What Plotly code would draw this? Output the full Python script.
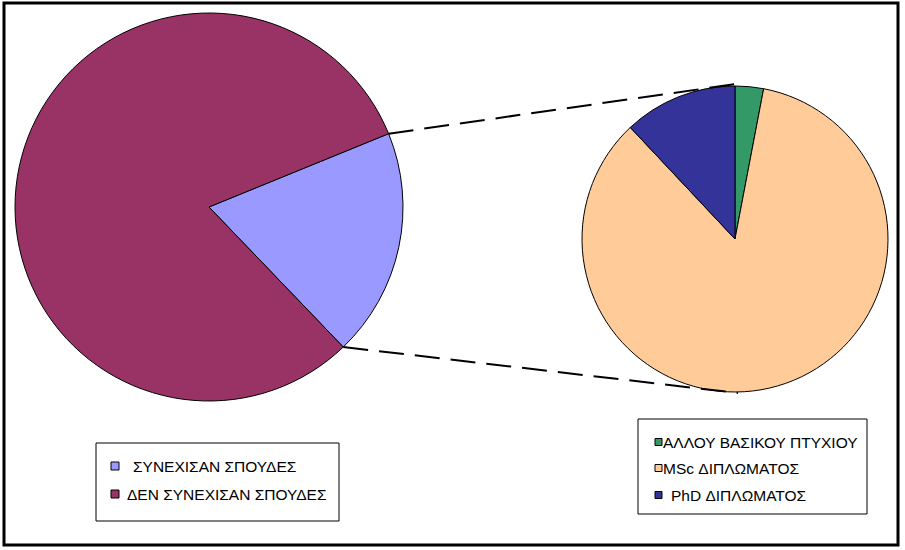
import math
import plotly.graph_objects as go

# ---- data ----
main_labels = ["ΣΥΝΕΧΙΣΑΝ ΣΠΟΥΔΕΣ", "ΔΕΝ ΣΥΝΕΧΙΣΑΝ ΣΠΟΥΔΕΣ"]
main_values = [19, 81]
main_colors = ["#9999FF", "#993366"]

sub_labels = ["ΑΛΛΟΥ ΒΑΣΙΚΟΥ ΠΤΥΧΙΟΥ", "MSc ΔΙΠΛΩΜΑΤΟΣ", "PhD ΔΙΠΛΩΜΑΤΟΣ"]
sub_values = [3, 85, 12]
sub_colors = ["#339966", "#FFCC99", "#333399"]

# ---- layout geometry (pixels) ----
W, H = 905, 550
L_CX, L_CY, L_R = 209, 207, 194
R_CX, R_CY, R_R = 735, 239, 153
L_ROT = 67.8
FONT = "Liberation Sans, Arial, sans-serif"


def px(x):
    return x / W


def py(y):
    return 1 - y / H


fig = go.Figure()
fig.add_trace(go.Pie(
    labels=main_labels, values=main_values, sort=False, direction="clockwise",
    rotation=L_ROT, textinfo="none", hoverinfo="label+percent",
    marker=dict(colors=main_colors, line=dict(color="#000000", width=1)),
    domain=dict(x=[px(L_CX - L_R), px(L_CX + L_R)], y=[py(L_CY + L_R), py(L_CY - L_R)]),
    showlegend=False,
))
fig.add_trace(go.Pie(
    labels=sub_labels, values=sub_values, sort=False, direction="clockwise",
    rotation=0, textinfo="none", hoverinfo="label+percent",
    marker=dict(colors=sub_colors, line=dict(color="#000000", width=1)),
    domain=dict(x=[px(R_CX - R_R), px(R_CX + R_R)], y=[py(R_CY + R_R), py(R_CY - R_R)]),
    showlegend=False,
))

shapes = []
# outer border
shapes.append(dict(type="rect", xref="paper", yref="paper",
                   x0=px(4), x1=px(898), y0=py(545), y1=py(3),
                   line=dict(color="black", width=3), fillcolor="rgba(0,0,0,0)"))

# connector lines from the boundaries of the first slice of the main pie
tot = sum(main_values)
a0 = math.radians(L_ROT)
a1 = math.radians(L_ROT + 360 * main_values[0] / tot)
p_top = (L_CX + L_R * math.sin(a0), L_CY - L_R * math.cos(a0))
p_bot = (L_CX + L_R * math.sin(a1), L_CY - L_R * math.cos(a1))
for (sx, sy), (ex, ey) in [(p_top, (R_CX + 1, R_CY - R_R - 2)), (p_bot, (R_CX + 3, R_CY + R_R + 1))]:
    shapes.append(dict(type="line", xref="paper", yref="paper",
                       x0=px(sx), y0=py(sy), x1=px(ex), y1=py(ey),
                       line=dict(color="black", width=2, dash="25px,11px")))

annotations = []


def legend(box, sq_x, sq_size, rows, text_xs, labels, colors):
    bx0, by0, bx1, by1 = box
    shapes.append(dict(type="rect", xref="paper", yref="paper",
                       x0=px(bx0), x1=px(bx1), y0=py(by1), y1=py(by0),
                       line=dict(color="black", width=1), fillcolor="white"))
    for cy, tx, lab, col in zip(rows, text_xs, labels, colors):
        shapes.append(dict(type="rect", xref="paper", yref="paper",
                           x0=px(sq_x), x1=px(sq_x + sq_size),
                           y0=py(cy + sq_size / 2), y1=py(cy - sq_size / 2),
                           line=dict(color="black", width=1), fillcolor=col))
        annotations.append(dict(xref="paper", yref="paper", x=px(tx), y=py(cy),
                                xanchor="left", yanchor="middle", text=lab, showarrow=False,
                                borderpad=0, borderwidth=0,
                                font=dict(family=FONT, size=15.5, color="black")))


legend((96, 443, 339, 521), 111, 8, [466, 494], [133, 127], main_labels, main_colors)
legend((638, 419, 867, 514), 655, 7, [442, 468, 495], [663, 663, 671], sub_labels, sub_colors)

fig.update_layout(
    width=W, height=H, autosize=False,
    margin=dict(l=0, r=0, t=0, b=0),
    paper_bgcolor="white", plot_bgcolor="white",
    shapes=shapes, annotations=annotations,
    font=dict(family=FONT),
)

fig.write_html(
    "out.html",
    config={"displayModeBar": False},
    post_script="document.body.style.margin='0';document.body.style.overflow='hidden';",
)
